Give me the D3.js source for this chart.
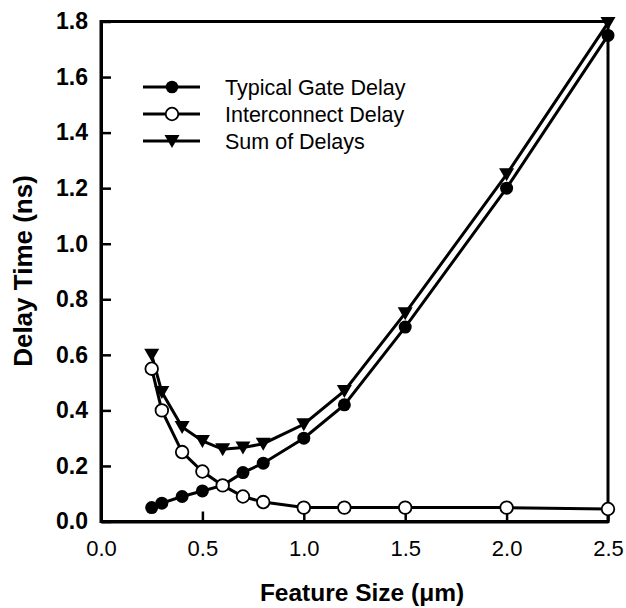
<!DOCTYPE html>
<html><head><meta charset="utf-8">
<script src="https://cdn.jsdelivr.net/npm/d3@7"></script>
<style>body{margin:0;background:#fff}svg{display:block}text{font-family:"Liberation Sans",Arial,sans-serif}</style>
</head><body>
<svg id="c" width="626" height="608"></svg>
<script>
const featureSize = [0.25,0.3,0.4,0.5,0.6,0.7,0.8,1.0,1.2,1.5,2.0,2.5];
const gateDelay = [0.05,0.066,0.09,0.11,0.13,0.176,0.21,0.30,0.42,0.70,1.20,1.75];
const interconnectDelay = [0.55,0.40,0.25,0.18,0.13,0.09,0.07,0.05,0.05,0.05,0.05,0.045];
const sumDelay = [0.60,0.466,0.34,0.29,0.26,0.266,0.28,0.35,0.47,0.75,1.25,1.795];
const xTicks = [0.0,0.5,1.0,1.5,2.0,2.5];
const yTicks = [0.0,0.2,0.4,0.6,0.8,1.0,1.2,1.4,1.6,1.8];
const seriesNames = ["Typical Gate Delay","Interconnect Delay","Sum of Delays"];

const FONT = '"Liberation Sans",Arial,sans-serif';
const svg = d3.select("#c");
const L=101, R=608, T=21.5, B=521.5;
const x = d3.scaleLinear().domain([0,2.5]).range([L,R]);
const y = d3.scaleLinear().domain([0,1.8]).range([B,T]);

// frame
svg.append("rect").attr("x",L).attr("y",T).attr("width",R-L).attr("height",B-T)
  .attr("fill","none").attr("stroke","#000").attr("stroke-width",3);

// y axis
const ya = svg.append("g").attr("transform",`translate(${L},0)`)
  .call(d3.axisLeft(y).tickValues(yTicks).tickFormat(d3.format(".1f")).tickSizeInner(-10).tickSizeOuter(0).tickPadding(13));
ya.select(".domain").attr("stroke-width",3);
ya.selectAll(".tick line").attr("stroke-width",2.5);
ya.selectAll("text").attr("font-size",23).attr("font-weight","bold").attr("fill","#000")
  .attr("font-family",FONT);

// x axis
const xa = svg.append("g").attr("transform",`translate(0,${B})`)
  .call(d3.axisBottom(x).tickValues(xTicks).tickFormat(d3.format(".1f")).tickSizeInner(-10).tickSizeOuter(0).tickPadding(19));
xa.select(".domain").attr("stroke-width",3);
xa.selectAll(".tick line").attr("stroke-width",2.5);
xa.selectAll("text").attr("font-size",22).attr("fill","#000")
  .attr("font-family",FONT);

// axis titles
svg.append("text").attr("x",362).attr("y",601).attr("text-anchor","middle")
  .attr("font-size",24.5).attr("font-weight","bold").text("Feature Size (μm)");
svg.append("text").attr("transform",`translate(32,271) rotate(-90)`).attr("text-anchor","middle")
  .attr("font-size",26).attr("font-weight","bold").text("Delay Time (ns)");

const line = d3.line().x(d=>x(d[0])).y(d=>y(d[1]));
const tri = "M-7.5,-6 L7.5,-6 L0,7 Z";

function drawSeries(vals, kind){
  const pts = featureSize.map((f,i)=>[f,vals[i]]);
  svg.append("path").datum(pts).attr("d",line).attr("fill","none").attr("stroke","#000").attr("stroke-width",3);
  const g = svg.append("g");
  if(kind==="tri"){
    g.selectAll("path").data(pts).join("path").attr("d",tri)
      .attr("transform",d=>`translate(${x(d[0])},${y(d[1])})`).attr("fill","#000");
  } else {
    g.selectAll("circle").data(pts).join("circle").attr("cx",d=>x(d[0])).attr("cy",d=>y(d[1]))
      .attr("r",kind==="open"?6.3:6.5).attr("fill",kind==="open"?"#fff":"#000")
      .attr("stroke","#000").attr("stroke-width",kind==="open"?1.8:0);
  }
}
drawSeries(gateDelay,"filled");
drawSeries(sumDelay,"tri");
drawSeries(interconnectDelay,"open");

// legend
const kinds = ["filled","open","tri"];
const legY = [87,114,141];
seriesNames.forEach((n,i)=>{
  const g = svg.append("g").attr("transform",`translate(0,${legY[i]})`);
  g.append("line").attr("x1",143).attr("x2",200).attr("y1",0).attr("y2",0).attr("stroke","#000").attr("stroke-width",3);
  if(kinds[i]==="tri") g.append("path").attr("d",tri).attr("transform","translate(172,0)");
  else g.append("circle").attr("cx",172).attr("cy",0).attr("r",6.3)
    .attr("fill",kinds[i]==="open"?"#fff":"#000").attr("stroke","#000").attr("stroke-width",kinds[i]==="open"?1.8:0);
  g.append("text").attr("x",225).attr("y",7.5).attr("font-size",21.5).text(n);
});
</script>
</body></html>
